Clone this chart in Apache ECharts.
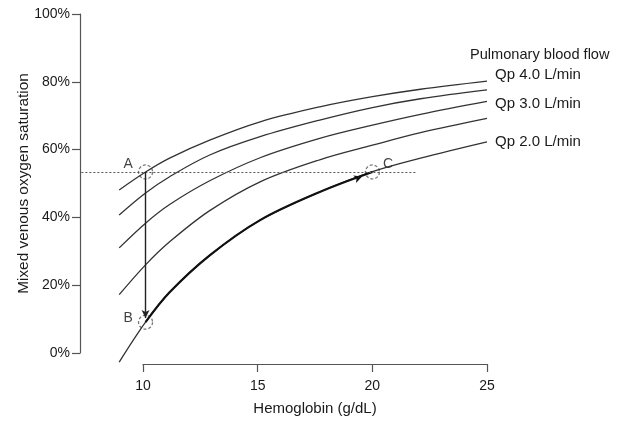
<!DOCTYPE html>
<html>
<head>
<meta charset="utf-8">
<script src="https://cdn.jsdelivr.net/npm/echarts@6/dist/echarts.min.js"></script>
<style>
  html, body { margin: 0; padding: 0; background: #fff; }
  #chart { width: 621px; height: 421px; }
</style>
</head>
<body>
<div id="chart"></div>
<script>
var hb = [8.95, 10.1, 11.15, 12.9, 15.1, 17.7, 20.0, 22.1, 25];
// mixed venous saturation (%) for each pulmonary blood flow
var qp40 = [48.1, 53.4, 57.5, 62.8, 68.2, 72.6, 75.6, 77.8, 80.2];
var qp35 = [40.7, 47.2, 52.0, 58.4, 63.8, 68.7, 72.4, 75.0, 77.6];
var qp30 = [31.0, 38.3, 43.8, 50.8, 57.6, 63.3, 67.2, 70.4, 74.2];
var qp25 = [17.2, 26.0, 32.8, 42.0, 50.5, 57.0, 61.3, 65.0, 69.2];
var qp20 = [-2.7, 9.1, 17.9, 28.8, 39.2, 47.5, 53.5, 57.5, 62.3];

// bold path B -> C along the Qp 2.0 curve
var pathHb = [10.1, 11.15, 12.9, 15.1, 17.7, 20.0];
var pathSat = [9.1, 17.9, 28.8, 39.2, 47.5, 53.4];

// marked points
var ptNames = ['A', 'B', 'C'];
var ptHb = [10.1, 10.1, 20.0];
var ptSat = [53.4, 9.1, 53.4];

var xTicks = [10, 15, 20, 25];
var yTicks = [0, 20, 40, 60, 80, 100];

var font = 'Liberation Sans';
var txt = '#1a1a1a';
var axisCol = '#555';

function pairs(xs, ys) {
    var out = [];
    for (var i = 0; i < xs.length; i++) out.push([xs[i], ys[i]]);
    return out;
}

function curve(name, ys, label, off) {
    var s = {
        name: name,
        type: 'line',
        xAxisIndex: 0,
        yAxisIndex: 0,
        smooth: 0.35,
        symbol: 'none',
        silent: true,
        lineStyle: { color: '#333', width: 1.3 },
        data: pairs(hb, ys)
    };
    if (label) {
        s.endLabel = {
            show: true,
            formatter: label,
            offset: off,
            color: txt,
            fontFamily: font,
            fontSize: 15
        };
    }
    return s;
}

var myChart = echarts.init(document.getElementById('chart'), null, { renderer: 'canvas' });

var option = {
    animation: false,
    backgroundColor: '#fff',
    title: {
        text: 'Pulmonary blood flow',
        left: 470,
        top: 47,
        padding: 0,
        textStyle: { fontFamily: font, fontSize: 14.6, fontWeight: 'normal', color: txt }
    },
    grid: [
        { left: 80, right: 134, top: 14, bottom: 56 },   // plot area
        { left: 143, right: 134, top: 14, bottom: 56 },  // x axis
        { left: 80, right: 134, top: 14, bottom: 68 }    // y axis
    ],
    xAxis: [
        { gridIndex: 0, type: 'value', min: 7.24, max: 25, show: false },
        {
            gridIndex: 1, type: 'value', min: 10, max: 25, interval: 5,
            name: 'Hemoglobin (g/dL)', nameLocation: 'middle', nameGap: 37,
            nameMoveOverlap: false,
            nameTextStyle: { fontFamily: font, fontSize: 15, color: txt },
            axisLine: { show: true, lineStyle: { color: axisCol, width: 1.2 } },
            axisTick: { show: true, length: 8, lineStyle: { color: axisCol, width: 1.2 } },
            axisLabel: { margin: 15, fontFamily: font, fontSize: 14, color: txt,
                formatter: function (v) { return xTicks.indexOf(v) >= 0 ? String(v) : ''; } },
            splitLine: { show: false }
        },
        { gridIndex: 2, type: 'value', min: 7.24, max: 25, show: false }
    ],
    yAxis: [
        { gridIndex: 0, type: 'value', min: -3.54, max: 100, show: false },
        { gridIndex: 1, type: 'value', min: 0, max: 100, show: false },
        {
            gridIndex: 2, type: 'value', min: 0, max: 100, interval: 20,
            name: 'Mixed venous oxygen saturation', nameLocation: 'middle', nameGap: 49,
            nameRotate: 90,
            nameMoveOverlap: false,
            nameTextStyle: { fontFamily: font, fontSize: 15.4, color: txt },
            axisLine: { show: true, lineStyle: { color: axisCol, width: 1.2 } },
            axisTick: { show: true, length: 8, lineStyle: { color: axisCol, width: 1.2 } },
            axisLabel: { margin: 10, fontFamily: font, fontSize: 14, color: txt,
                formatter: function (v) { return yTicks.indexOf(v) >= 0 ? v + '%' : ''; } },
            splitLine: { show: false }
        }
    ],
    series: [
        curve('Qp 4.0', qp40, 'Qp 4.0 L/min', [0, -6]),
        curve('Qp 3.5', qp35),
        curve('Qp 3.0', qp30, 'Qp 3.0 L/min', [0, 2]),
        curve('Qp 2.5', qp25),
        curve('Qp 2.0', qp20, 'Qp 2.0 L/min', [0, 0]),
        {
            name: 'path',
            type: 'line',
            xAxisIndex: 0,
            yAxisIndex: 0,
            smooth: 0.35,
            symbol: 'none',
            silent: true,
            lineStyle: { color: '#111', width: 2.2 },
            data: pairs(pathHb, pathSat),
            markLine: {
                silent: true,
                animation: false,
                label: { show: false },
                data: [
                    [
                        { coord: [7.3, ptSat[0]], symbol: 'none', lineStyle: { type: [2, 2], color: '#555', width: 1.1 } },
                        { coord: [21.9, ptSat[0]], symbol: 'none' }
                    ],
                    [
                        { coord: [ptHb[0], ptSat[0]], symbol: 'none', lineStyle: { type: 'solid', color: '#222', width: 1.4 } },
                        { coord: [ptHb[1], ptSat[1] + 1.2], symbol: 'arrow', symbolSize: [6, 8] }
                    ]
                ]
            },
            markPoint: {
                silent: true,
                animation: false,
                label: { show: false },
                data: [
                    { coord: [19.55, 52.1], symbol: 'arrow', symbolSize: [6, 8], symbolRotate: -69,
                      itemStyle: { color: '#111' } }
                ]
            }
        },
        {
            name: 'points',
            type: 'scatter',
            xAxisIndex: 0,
            yAxisIndex: 0,
            silent: true,
            symbol: 'circle',
            symbolSize: 14,
            itemStyle: { color: 'rgba(0,0,0,0)', borderColor: '#555', borderWidth: 1.3, borderType: [3, 2] },
            label: {
                show: true,
                formatter: function (p) { return ptNames[p.dataIndex]; },
                fontFamily: font,
                fontSize: 14,
                color: '#111'
            },
            data: [
                { value: [ptHb[0], ptSat[0]], label: { position: 'left', offset: [0, -8] } },
                { value: [ptHb[1], ptSat[1]], label: { position: 'left', offset: [0, -4] } },
                { value: [ptHb[2], ptSat[2]], label: { position: 'right', offset: [-2, -8] } }
            ]
        }
    ]
};

myChart.setOption(option);
</script>
</body>
</html>
